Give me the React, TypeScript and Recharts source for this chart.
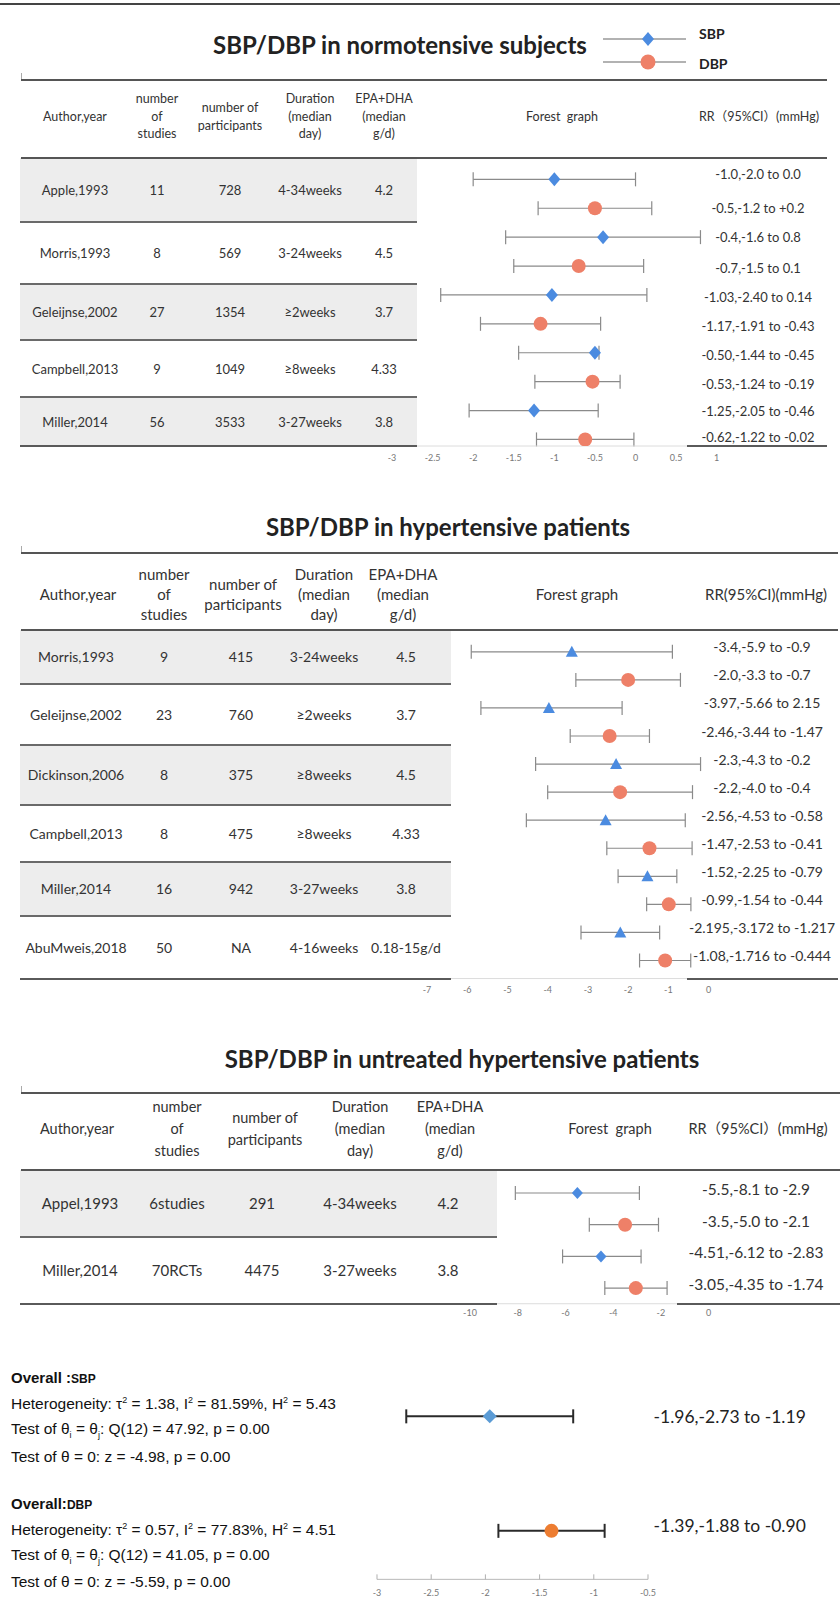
import React from "react";
import { ScatterChart, Scatter, XAxis, YAxis, ErrorBar } from "recharts";

const PAGE_W = 840;
const SANS = "Lato, 'Noto Sans', 'Noto Sans CJK SC', sans-serif";
const ARIAL = "'Liberation Sans', Arial, sans-serif";
const SBP_COLOR = "#4b8be0";
const DBP_COLOR = "#ee8068";

type Ci = [number, number, number]; // estimate, lower, upper

// ---------- SBP/DBP in normotensive subjects
const normHeader = ["Author,year", "number\nof\nstudies", "number of\nparticipants", "Duration\n(median\nday)", "EPA+DHA\n(median\ng/d)", "Forest  graph", "RR（95%CI）(mmHg)"];
const normAuthors = ["Apple,1993", "Morris,1993", "Geleijnse,2002", "Campbell,2013", "Miller,2014"];
const normStudies = ["11", "8", "27", "9", "56"];
const normParticipants = ["728", "569", "1354", "1049", "3533"];
const normDuration = ["4-34weeks", "3-24weeks", "≥2weeks", "≥8weeks", "3-27weeks"];
const normDose = ["4.2", "4.5", "3.7", "4.33", "3.8"];
const normSbp: Ci[] = [[-1.0, -2.0, 0.0], [-0.4, -1.6, 0.8], [-1.03, -2.4, 0.14], [-0.5, -1.44, -0.45], [-1.25, -2.05, -0.46]];
const normDbp: Ci[] = [[-0.5, -1.2, 0.2], [-0.7, -1.5, 0.1], [-1.17, -1.91, -0.43], [-0.53, -1.24, -0.19], [-0.62, -1.22, -0.02]];
const normSbpText = ["-1.0,-2.0 to 0.0", "-0.4,-1.6 to 0.8", "-1.03,-2.40 to 0.14", "-0.50,-1.44 to -0.45", "-1.25,-2.05 to -0.46"];
const normDbpText = ["-0.5,-1.2 to +0.2", "-0.7,-1.5 to 0.1", "-1.17,-1.91 to -0.43", "-0.53,-1.24 to -0.19", "-0.62,-1.22 to -0.02"];
const normTicks = [-3, -2.5, -2, -1.5, -1, -0.5, 0, 0.5, 1];

// ---------- SBP/DBP in hypertensive patients
const hypHeader = ["Author,year", "number\nof\nstudies", "number of\nparticipants", "Duration\n(median\nday)", "EPA+DHA\n(median\ng/d)", "Forest graph", "RR(95%CI)(mmHg)"];
const hypAuthors = ["Morris,1993", "Geleijnse,2002", "Dickinson,2006", "Campbell,2013", "Miller,2014", "AbuMweis,2018"];
const hypStudies = ["9", "23", "8", "8", "16", "50"];
const hypParticipants = ["415", "760", "375", "475", "942", "NA"];
const hypDuration = ["3-24weeks", "≥2weeks", "≥8weeks", "≥8weeks", "3-27weeks", "4-16weeks"];
const hypDose = ["4.5", "3.7", "4.5", "4.33", "3.8", "0.18-15g/d"];
const hypSbp: Ci[] = [[-3.4, -5.9, -0.9], [-3.97, -5.66, -2.15], [-2.3, -4.3, -0.2], [-2.56, -4.53, -0.58], [-1.52, -2.25, -0.79], [-2.195, -3.172, -1.217]];
const hypDbp: Ci[] = [[-2.0, -3.3, -0.7], [-2.46, -3.44, -1.47], [-2.2, -4.0, -0.4], [-1.47, -2.53, -0.41], [-0.99, -1.54, -0.44], [-1.08, -1.716, -0.444]];
const hypSbpText = ["-3.4,-5.9 to -0.9", "-3.97,-5.66 to 2.15", "-2.3,-4.3 to -0.2", "-2.56,-4.53 to -0.58", "-1.52,-2.25 to -0.79", "-2.195,-3.172 to -1.217"];
const hypDbpText = ["-2.0,-3.3 to -0.7", "-2.46,-3.44 to -1.47", "-2.2,-4.0 to -0.4", "-1.47,-2.53 to -0.41", "-0.99,-1.54 to -0.44", "-1.08,-1.716 to -0.444"];
const hypTicks = [-7, -6, -5, -4, -3, -2, -1, 0];

// ---------- SBP/DBP in untreated hypertensive patients
const untHeader = ["Author,year", "number\nof\nstudies", "number of\nparticipants", "Duration\n(median\nday)", "EPA+DHA\n(median\ng/d)", "Forest  graph", "RR（95%CI）(mmHg)"];
const untAuthors = ["Appel,1993", "Miller,2014"];
const untStudies = ["6studies", "70RCTs"];
const untParticipants = ["291", "4475"];
const untDuration = ["4-34weeks", "3-27weeks"];
const untDose = ["4.2", "3.8"];
const untSbp: Ci[] = [[-5.5, -8.1, -2.9], [-4.51, -6.12, -2.83]];
const untDbp: Ci[] = [[-3.5, -5.0, -2.1], [-3.05, -4.35, -1.74]];
const untSbpText = ["-5.5,-8.1 to -2.9", "-4.51,-6.12 to -2.83"];
const untDbpText = ["-3.5,-5.0 to -2.1", "-3.05,-4.35 to -1.74"];
const untTicks = [-10, -8, -6, -4, -2, 0];

// ---------- overall
const overallSbp: Ci[] = [[-1.96, -2.73, -1.19]];
const overallDbp: Ci[] = [[-1.39, -1.88, -0.9]];
const overallSbpText = ["-1.96,-2.73 to -1.19"];
const overallDbpText = ["-1.39,-1.88 to -0.90"];
const overallTicks = [-3, -2.5, -2, -1.5, -1, -0.5];

// marker shapes
const diamond = (hw: number, hh: number, fill: string) => (p: any) =>
  <polygon points={`${p.cx},${p.cy - hh} ${p.cx + hw},${p.cy} ${p.cx},${p.cy + hh} ${p.cx - hw},${p.cy}`} fill={fill} />;
const dot = (r: number, fill: string) => (p: any) => <circle cx={p.cx} cy={p.cy} r={r} fill={fill} />;
const triangle = (hw: number, fill: string) => (p: any) =>
  <polygon points={`${p.cx},${p.cy - 6} ${p.cx + hw},${p.cy + 5} ${p.cx - hw},${p.cy + 5}`} fill={fill} />;

function T({ x, y, size, children, weight = 400, family = SANS, align = "center", color = "#333", lh }: any) {
  return (
    <div
      style={{
        position: "absolute", left: x, top: y,
        transform: `translate(${align === "center" ? "-50%" : "0"}, -50%)`,
        fontSize: size, fontWeight: weight, fontFamily: family, color,
        whiteSpace: "pre", lineHeight: lh ? `${lh}px` : "1.15", textAlign: align,
      }}
    >
      {children}
    </div>
  );
}

const HLine = ({ x1, x2, y, w = 2, color = "#5e5e5e" }: any) => (
  <div style={{ position: "absolute", left: x1, top: y - w / 2, width: x2 - x1, height: w, background: color }} />
);

function Table(props: any) {
  const { header, headerX, headerY, headerSize, headerLh, cols, colX, cellSize, topLine, headBottom, rowEdges, shadeRight, lineRight, gapEnd, layer } = props;
  const n = rowEdges.length - 1;
  if (layer === "back") {
    return (
      <>
        {Array.from({ length: n }, (_, i) =>
          i % 2 === 0 ? (
            <div key={i} style={{ position: "absolute", left: 20, top: rowEdges[i], width: shadeRight - 20, height: rowEdges[i + 1] - rowEdges[i], background: "#ededed" }} />
          ) : null
        )}
      </>
    );
  }
  return (
    <>
      <div style={{ position: "absolute", left: 21, top: topLine - 7, width: 1, height: 7, background: "#aaa" }} />
      <HLine x1={21} x2={lineRight} y={topLine} color="#555" />
      <HLine x1={21} x2={lineRight} y={headBottom} color="#555" />
      {rowEdges.slice(1, n).map((y: number, i: number) => (
        <HLine key={i} x1={20} x2={shadeRight} y={y} w={2.5} color="#6a6a6a" />
      ))}
      <HLine x1={20} x2={shadeRight} y={rowEdges[n]} w={2.5} color="#5a5a5a" />
      <HLine x1={gapEnd} x2={lineRight} y={rowEdges[n]} w={2.5} color="#5a5a5a" />
      {header.map((h: string, i: number) => (
        <T key={i} x={headerX[i]} y={headerY} size={headerSize} lh={headerLh}>{h}</T>
      ))}
      {cols.map((col: string[], c: number) =>
        col.map((v, r) => (
          <T key={`${c}-${r}`} x={colX[c]} y={(rowEdges[r] + rowEdges[r + 1]) / 2} size={cellSize}>{v}</T>
        ))
      )}
    </>
  );
}

function Forest(props: any) {
  const {
    plotLeft, plotRight, firstY, step, axisY, topPad, domain, ticks,
    sbp, dbp, sbpText, dbpText, labelX, labelDy, labelSize, labelColor = "#333",
    sbpShape, dbpShape, ciColor, ciWidth, capWidth,
    tickSize = 0, tickMargin, tickLine = false, axisColor = "#dcdcdc",
  } = props;
  const mL = 30;
  const left = plotLeft - mL;
  const plotTop = firstY - topPad * step;
  const xh = 26;
  const height = axisY - plotTop + xh;
  const width = PAGE_W - left;
  const yMax = (axisY - firstY) / step;

  const sbpPts = sbp.map((c: Ci, i: number) => ({ x: c[0], y: 2 * i, err: [c[0] - c[1], c[2] - c[0]] }));
  const dbpPts = dbp.map((c: Ci, i: number) => ({ x: c[0], y: 2 * i + 1, err: [c[0] - c[1], c[2] - c[0]] }));
  const labels: string[] = [];
  sbpText.forEach((s: string, i: number) => { labels[2 * i] = s; labels[2 * i + 1] = dbpText[i]; });
  const idx = labels.map((_, i) => i);
  const dyOf = (i: number) => (Array.isArray(labelDy) ? labelDy[i] ?? 0 : labelDy);

  const RRTick = (p: any) => (
    <text x={labelX - left} y={p.y + dyOf(p.payload.value)} textAnchor="middle" dominantBaseline="central"
      fontSize={labelSize} fontFamily={SANS} fill={labelColor}>
      {labels[p.payload.value]}
    </text>
  );

  return (
    <div style={{ position: "absolute", left, top: plotTop }}>
      <ScatterChart width={width} height={height} margin={{ top: 0, right: 0, bottom: 0, left: mL }}>
        <XAxis type="number" dataKey="x" domain={domain} ticks={ticks} allowDataOverflow interval={0}
          height={xh} tickSize={tickSize} tickMargin={tickMargin}
          tickLine={tickLine ? { stroke: "#b0b0b0" } : false}
          axisLine={{ stroke: axisColor }}
          tick={{ fontSize: 9, fill: "#777", fontFamily: SANS }} />
        <YAxis type="number" dataKey="y" orientation="right" domain={[-topPad, yMax]} allowDataOverflow reversed
          ticks={idx} interval={0} axisLine={false} tickLine={false} width={PAGE_W - plotRight} tick={RRTick} />
        <Scatter data={sbpPts} shape={sbpShape} isAnimationActive={false}>
          <ErrorBar dataKey="err" direction="x" width={capWidth} stroke={ciColor} strokeWidth={ciWidth} isAnimationActive={false} />
        </Scatter>
        <Scatter data={dbpPts} shape={dbpShape} isAnimationActive={false}>
          <ErrorBar dataKey="err" direction="x" width={capWidth} stroke={ciColor} strokeWidth={ciWidth} isAnimationActive={false} />
        </Scatter>
      </ScatterChart>
    </div>
  );
}

const normTable = {
  header: normHeader, headerX: [75, 157, 230, 310, 384, 562, 759], headerY: 117, headerSize: 12.5, headerLh: 17.7,
  cols: [normAuthors, normStudies, normParticipants, normDuration, normDose], colX: [75, 157, 230, 310, 384], cellSize: 13,
  topLine: 80, headBottom: 158, rowEdges: [158, 222, 284, 340, 397, 446], shadeRight: 417, lineRight: 827, gapEnd: 687,
};
const hypTable = {
  header: hypHeader, headerX: [78, 164, 243, 324, 403, 577, 766], headerY: 594, headerSize: 15, headerLh: 20,
  cols: [hypAuthors, hypStudies, hypParticipants, hypDuration, hypDose], colX: [76, 164, 241, 324, 406], cellSize: 14,
  topLine: 553, headBottom: 630, rowEdges: [630, 684, 745, 805, 862, 916, 979], shadeRight: 451, lineRight: 838, gapEnd: 687,
};
const untTable = {
  header: untHeader, headerX: [77, 177, 265, 360, 450, 610, 758], headerY: 1129, headerSize: 14.5, headerLh: 22,
  cols: [untAuthors, untStudies, untParticipants, untDuration, untDose], colX: [80, 177, 262, 360, 448], cellSize: 15,
  topLine: 1093, headBottom: 1170, rowEdges: [1170, 1237, 1304], shadeRight: 497, lineRight: 840, gapEnd: 677,
};

export default function App() {
  return (
    <div style={{ position: "absolute", left: 0, top: 0, width: 840, height: 1600, background: "#fff", overflow: "hidden" }}>
      <HLine x1={0} x2={840} y={4} color="#444" />

      {/* panel 1 */}
      <T x={400} y={45} size={24} weight={700} color="#222">SBP/DBP in normotensive subjects</T>
      <svg style={{ position: "absolute", left: 0, top: 0 }} width={840} height={80}>
        <line x1={603} x2={686} y1={39} y2={39} stroke="#666" strokeWidth={1.2} />
        <polygon points="648,32 654,39 648,46 642,39" fill={SBP_COLOR} />
        <line x1={603} x2={686} y1={62} y2={62} stroke="#666" strokeWidth={1.2} />
        <circle cx={648} cy={62} r={7.5} fill={DBP_COLOR} />
      </svg>
      <T x={699} y={34} size={14} weight={700} align="left" color="#222">SBP</T>
      <T x={699} y={64} size={14} weight={700} align="left" color="#222">DBP</T>

      <Table {...normTable} layer="back" />
      <Table {...hypTable} layer="back" />
      <Table {...untTable} layer="back" />

      <Forest plotLeft={392} plotRight={716.7} firstY={179.3} step={28.9} axisY={446} topPad={0.6}
        domain={[-3, 1]} ticks={normTicks} sbp={normSbp} dbp={normDbp} sbpText={normSbpText} dbpText={normDbpText}
        labelX={758} labelDy={[-5, 0, 0, 2, 2, 2, 2, 2, 0, -2]} labelSize={13}
        sbpShape={diamond(6, 7, SBP_COLOR)} dbpShape={dot(7, DBP_COLOR)}
        ciColor="#8a8a8a" ciWidth={1.2} capWidth={7} tickMargin={8.8} />
      <Table {...normTable} layer="front" />

      {/* panel 2 */}
      <T x={448} y={527} size={24} weight={700} color="#222">SBP/DBP in hypertensive patients</T>
      <Forest plotLeft={427} plotRight={708.6} firstY={652.3} step={28.06} axisY={979} topPad={0.6}
        domain={[-7, 0]} ticks={hypTicks} sbp={hypSbp} dbp={hypDbp} sbpText={hypSbpText} dbpText={hypDbpText}
        labelX={762} labelDy={-5} labelSize={14}
        sbpShape={triangle(6, SBP_COLOR)} dbpShape={dot(7, DBP_COLOR)}
        ciColor="#8a8a8a" ciWidth={1.2} capWidth={7} tickMargin={7.8} />
      <Table {...hypTable} layer="front" />

      {/* panel 3 */}
      <T x={462} y={1059} size={24} weight={700} color="#222">SBP/DBP in untreated hypertensive patients</T>
      <Forest plotLeft={470} plotRight={708.6} firstY={1193.3} step={31.7} axisY={1304} topPad={0.6}
        domain={[-10, 0]} ticks={untTicks} sbp={untSbp} dbp={untDbp} sbpText={untSbpText} dbpText={untDbpText}
        labelX={756} labelDy={-4} labelSize={15.5}
        sbpShape={diamond(5.5, 6, SBP_COLOR)} dbpShape={dot(7, DBP_COLOR)}
        ciColor="#8a8a8a" ciWidth={1.2} capWidth={7} tickMargin={6} />
      <Table {...untTable} layer="front" />

      {/* overall */}
      <T x={11} y={1378} size={15} weight={700} align="left" family={ARIAL} color="#111">
        Overall :<span style={{ fontSize: 12 }}>SBP</span>
      </T>
      <T x={11} y={1404} size={15.5} align="left" family={ARIAL} color="#111">
        Heterogeneity: τ<sup style={{ fontSize: 9 }}>2</sup> = 1.38, I<sup style={{ fontSize: 9 }}>2</sup> = 81.59%, H<sup style={{ fontSize: 9 }}>2</sup> = 5.43
      </T>
      <T x={11} y={1430} size={15.5} align="left" family={ARIAL} color="#111">
        Test of θ<sub style={{ fontSize: 9 }}>i</sub> = θ<sub style={{ fontSize: 9 }}>j</sub>: Q(12) = 47.92, p = 0.00
      </T>
      <T x={11} y={1457} size={15.5} align="left" family={ARIAL} color="#111">Test of θ = 0: z = -4.98, p = 0.00</T>

      <T x={11} y={1504} size={15} weight={700} align="left" family={ARIAL} color="#111">
        Overall:<span style={{ fontSize: 12 }}>DBP</span>
      </T>
      <T x={11} y={1530} size={15.5} align="left" family={ARIAL} color="#111">
        Heterogeneity: τ<sup style={{ fontSize: 9 }}>2</sup> = 0.57, I<sup style={{ fontSize: 9 }}>2</sup> = 77.83%, H<sup style={{ fontSize: 9 }}>2</sup> = 4.51
      </T>
      <T x={11} y={1556} size={15.5} align="left" family={ARIAL} color="#111">
        Test of θ<sub style={{ fontSize: 9 }}>i</sub> = θ<sub style={{ fontSize: 9 }}>j</sub>: Q(12) = 41.05, p = 0.00
      </T>
      <T x={11} y={1582} size={15.5} align="left" family={ARIAL} color="#111">Test of θ = 0: z = -5.59, p = 0.00</T>

      <Forest plotLeft={377.3} plotRight={648.3} firstY={1416} step={114.5} axisY={1579} topPad={0.3}
        domain={[-3, -0.5]} ticks={overallTicks} sbp={overallSbp} dbp={overallDbp} sbpText={overallSbpText} dbpText={overallDbpText}
        labelX={730} labelDy={[0, -5]} labelSize={17.5} labelColor="#222"
        sbpShape={diamond(7, 7, "#5b9bd5")} dbpShape={dot(7, "#ed7d31")}
        ciColor="#2a2a2a" ciWidth={2} capWidth={7}
        tickSize={-5} tickMargin={15} tickLine axisColor="#b8b8b8" />
    </div>
  );
}
